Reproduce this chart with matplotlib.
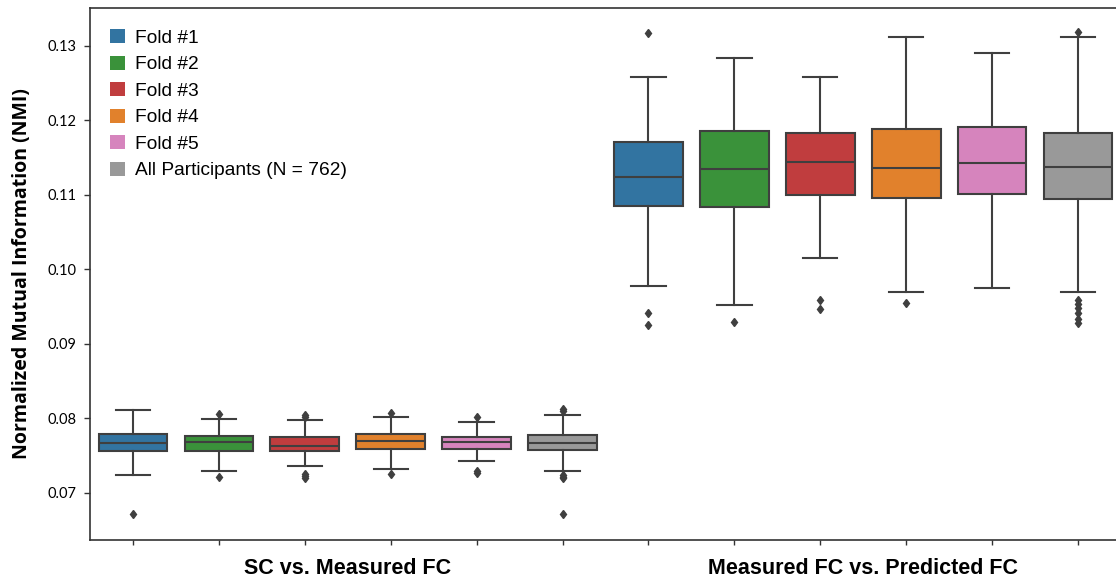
import matplotlib
matplotlib.use("Agg")
import matplotlib.pyplot as plt
from matplotlib.patches import Patch

groups = ["SC vs. Measured FC", "Measured FC vs. Predicted FC"]
folds = ["Fold #1", "Fold #2", "Fold #3", "Fold #4", "Fold #5", "All Participants (N = 762)"]
colors = ["#3274a1", "#3a923a", "#c03d3e", "#e1812c", "#d684bd", "#999999"]

# SC vs. Measured FC
sc_whislo = [0.0723, 0.0729, 0.0736, 0.0732, 0.0742, 0.0729]
sc_q1 = [0.0756, 0.0756, 0.0756, 0.0759, 0.0758, 0.0757]
sc_med = [0.0767, 0.0768, 0.0763, 0.0769, 0.0768, 0.0767]
sc_q3 = [0.0779, 0.0776, 0.0775, 0.0779, 0.0775, 0.0777]
sc_whishi = [0.0811, 0.0799, 0.0798, 0.0802, 0.0795, 0.0804]
sc_fliers = [
    [0.0671],
    [0.0805, 0.0721],
    [0.0804, 0.0802, 0.0725, 0.0722, 0.0720],
    [0.0807, 0.0725],
    [0.0802, 0.0729, 0.0726],
    [0.0812, 0.0809, 0.0724, 0.0721, 0.0719, 0.0671],
]

# Measured FC vs. Predicted FC
pf_whislo = [0.0977, 0.0952, 0.1015, 0.0969, 0.0975, 0.0969]
pf_q1 = [0.1084, 0.1083, 0.1100, 0.1096, 0.1101, 0.1094]
pf_med = [0.1123, 0.1134, 0.1143, 0.1136, 0.1142, 0.1137]
pf_q3 = [0.1170, 0.1185, 0.1183, 0.1188, 0.1191, 0.1183]
pf_whishi = [0.1258, 0.1283, 0.1258, 0.1312, 0.1290, 0.1312]
pf_fliers = [
    [0.1317, 0.0941, 0.0925],
    [0.0929],
    [0.0959, 0.0947],
    [0.0954],
    [],
    [0.1318, 0.0958, 0.0953, 0.0948, 0.0941, 0.0933, 0.0927],
]

stats = []
for wl, q1, md, q3, wh, fl in list(zip(sc_whislo, sc_q1, sc_med, sc_q3, sc_whishi, sc_fliers)) + \
        list(zip(pf_whislo, pf_q1, pf_med, pf_q3, pf_whishi, pf_fliers)):
    stats.append(dict(whislo=wl, q1=q1, med=md, q3=q3, whishi=wh, fliers=fl))

fig = plt.figure(figsize=(11.16, 5.8), dpi=100)
ax = fig.add_axes([90 / 1116, 40.5 / 580, (1121 - 90) / 1116, (572.5 - 40.5) / 580])

lc = "#3f3f3f"
positions = list(range(len(stats)))
res = ax.bxp(stats, positions=positions, widths=0.8, patch_artist=True, showfliers=True,
             boxprops=dict(edgecolor=lc, linewidth=1.5),
             medianprops=dict(color=lc, linewidth=1.5),
             whiskerprops=dict(color=lc, linewidth=1.5),
             capprops=dict(color=lc, linewidth=1.5),
             flierprops=dict(marker="d", markerfacecolor=lc, markeredgecolor=lc, markersize=4.5))
for i, b in enumerate(res["boxes"]):
    b.set_facecolor(colors[i % len(colors)])
for cap in res["caps"]:
    x = cap.get_xdata()
    c = (x[0] + x[1]) / 2
    cap.set_xdata([c - 0.2, c + 0.2])

ax.set_xlim(-0.5, 11.5)
ax.set_ylim(0.0637, 0.1351)
ax.set_yticks([0.07, 0.08, 0.09, 0.10, 0.11, 0.12, 0.13])
ax.set_yticklabels(["0.07", "0.08", "0.09", "0.10", "0.11", "0.12", "0.13"],
                   fontsize=10.5, family="Lato")
ax.set_xticks(positions)
ax.set_xticklabels([])
ax.set_xticks([2.5, 8.5], minor=True)
ax.set_xticklabels(groups, minor=True, fontsize=15.5, fontweight="bold", family="Liberation Sans")
ax.tick_params(axis="x", which="minor", length=0, pad=13)
ax.tick_params(axis="x", which="major", length=3.5, width=1, color="#333333")
ax.tick_params(axis="y", length=4, width=1, color="#333333", pad=6)
ax.set_ylabel("Normalized Mutual Information (NMI)", fontsize=14, fontweight="bold",
              family="Open Sans", labelpad=11)
for s in ax.spines.values():
    s.set_color("#333333")
    s.set_linewidth(1.2)

handles = [Patch(facecolor=c, edgecolor="none") for c in colors]
ax.legend(handles, folds, loc="upper left", frameon=False,
          prop={"family": "Liberation Sans", "size": 13.8},
          handlelength=0.78, handleheight=0.78, handletextpad=0.5, labelspacing=0.45,
          bbox_to_anchor=(0.003, 0.992), borderaxespad=0.5)

fig.savefig("out.png", dpi=100)
